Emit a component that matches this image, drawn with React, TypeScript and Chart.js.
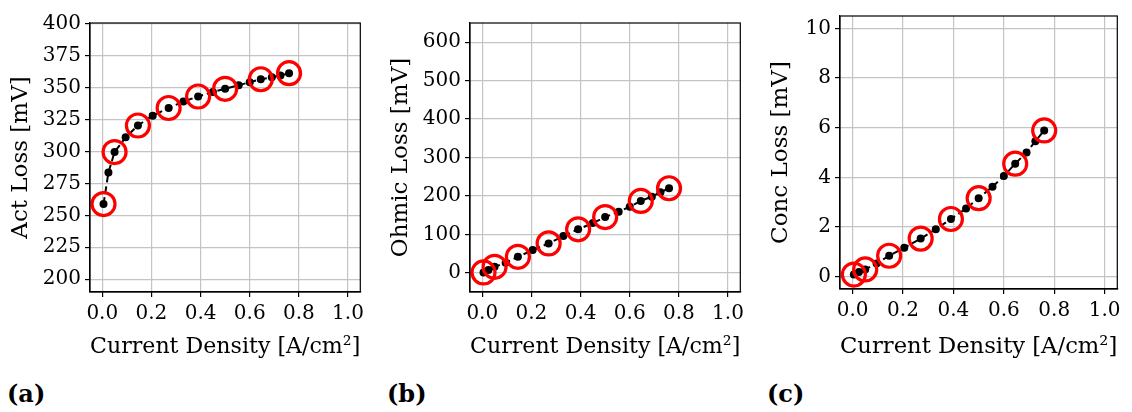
import React, { useEffect, useRef } from "react";
import { Chart, registerables } from "chart.js";
Chart.register(...registerables);

const currentDensity = [0.005, 0.025, 0.05, 0.095, 0.145, 0.205, 0.27, 0.33, 0.39, 0.45, 0.5, 0.555, 0.6, 0.645, 0.69, 0.725, 0.76];
const actLoss = [258.8, 283.5, 299.5, 311, 320.3, 328, 334, 339, 343, 346.5, 349, 351.7, 354.2, 356.5, 358, 359.5, 361.2];
const ohmicLoss = [1, 7, 15.5, 26, 41.5, 59, 76.5, 95.5, 113, 129.5, 145, 159, 172, 187, 198, 209.5, 220];
const concLoss = [0.08, 0.18, 0.29, 0.53, 0.84, 1.16, 1.53, 1.91, 2.32, 2.74, 3.16, 3.62, 4.05, 4.55, 5.0, 5.45, 5.89];
const highlightIdx = [0, 2, 4, 6, 8, 10, 13, 16];
const xTicks = [0, 0.2, 0.4, 0.6, 0.8, 1.0];
const actTicks = [200, 225, 250, 275, 300, 325, 350, 375, 400];
const ohmicTicks = [0, 100, 200, 300, 400, 500, 600];
const concTicks = [0, 2, 4, 6, 8, 10];
const xLabel = "Current Density [A/cm²]";

const FONT = "'DejaVu Serif', 'Liberation Serif', serif";
const TICK_SIZE = 20;
const TITLE_SIZE = 23;

type PanelProps = {
  left: number;
  width: number;
  top: number;
  plotBottom: number;
  yAxisWidth: number;
  rightPad: number;
  yMin: number;
  yMax: number;
  yTicks: number[];
  yLabel: string;
  values: number[];
  tag: string;
};

const boxPlugin = {
  id: "box",
  afterDraw(chart: any) {
    const { ctx, chartArea } = chart;
    ctx.save();
    ctx.strokeStyle = "#000";
    ctx.lineWidth = 1.2;
    ctx.strokeRect(chartArea.left, chartArea.top, chartArea.right - chartArea.left, chartArea.bottom - chartArea.top);
    ctx.restore();
  },
};

const CANVAS_H = 370;

function Panel(p: PanelProps) {
  const ref = useRef<HTMLCanvasElement>(null);
  useEffect(() => {
    if (!ref.current) return;
    const pts = currentDensity.map((x, i) => ({ x, y: p.values[i] }));
    const hl = highlightIdx.map((i) => ({ x: currentDensity[i], y: p.values[i] }));
    const chart = new Chart(ref.current, {
      type: "scatter",
      data: {
        datasets: [
          {
            data: pts,
            showLine: true,
            borderColor: "#000",
            borderWidth: 2,
            borderDash: [7, 4],
            backgroundColor: "#000",
            pointBackgroundColor: "#000",
            pointBorderWidth: 0,
            pointRadius: 4,
            clip: false,
            order: 2,
          } as any,
          {
            data: hl,
            showLine: false,
            borderColor: "#ff0000",
            backgroundColor: "rgba(0,0,0,0)",
            pointBorderColor: "#ff0000",
            pointBackgroundColor: "rgba(0,0,0,0)",
            pointBorderWidth: 3.2,
            pointRadius: 11.5,
            clip: false,
            order: 1,
          } as any,
        ],
      },
      options: {
        animation: false,
        responsive: false,
        maintainAspectRatio: false,
        events: [],
        layout: { padding: { top: p.top, left: 0, right: p.rightPad, bottom: 0 } },
        plugins: { legend: { display: false }, tooltip: { enabled: false } },
        scales: {
          x: {
            type: "linear",
            min: -0.05,
            max: 1.05,
            afterBuildTicks: (s: any) => {
              s.ticks = xTicks.map((v) => ({ value: v }));
            },
            afterFit: (s: any) => {
              s.height = CANVAS_H - p.plotBottom;
            },
            ticks: {
              color: "#000",
              font: { family: FONT, size: TICK_SIZE },
              padding: 5,
              maxRotation: 0,
              callback: (v: any) => Number(v).toFixed(1),
            },
            grid: { color: "#c4c4c4", lineWidth: 1.2, tickColor: "#000", tickLength: 5, tickWidth: 1.2 },
            border: { color: "#000", width: 1.2 },
            title: { display: true, text: xLabel, color: "#000", font: { family: FONT, size: TITLE_SIZE }, padding: { top: 0, bottom: 9 } },
          },
          y: {
            type: "linear",
            min: p.yMin,
            max: p.yMax,
            afterBuildTicks: (s: any) => {
              s.ticks = p.yTicks.map((v) => ({ value: v }));
            },
            afterFit: (s: any) => {
              s.width = p.yAxisWidth;
            },
            ticks: {
              color: "#000",
              font: { family: FONT, size: TICK_SIZE },
              padding: 4,
              callback: (v: any) => String(v),
            },
            grid: { color: "#c4c4c4", lineWidth: 1.2, tickColor: "#000", tickLength: 5, tickWidth: 1.2 },
            border: { color: "#000", width: 1.2 },
            title: { display: true, text: p.yLabel, color: "#000", font: { family: FONT, size: TITLE_SIZE }, padding: { top: 7, bottom: 0 } },
          },
        },
      },
      plugins: [boxPlugin],
    } as any);
    return () => chart.destroy();
  }, []);
  return (
    <>
      <canvas
        ref={ref}
        width={p.width}
        height={CANVAS_H}
        style={{ position: "absolute", left: p.left, top: 0, width: p.width, height: CANVAS_H }}
      />
      <div
        style={{
          position: "absolute",
          left: p.left + 7,
          top: 377,
          fontFamily: FONT,
          fontWeight: "bold",
          fontSize: 24,
          lineHeight: "34px",
          color: "#000",
        }}
      >
        {p.tag}
      </div>
    </>
  );
}

export default function App() {
  return (
    <div style={{ position: "fixed", left: 0, top: 0, width: 1132, height: 412, background: "#fff" }}>
      <Panel left={0} width={375} top={23} plotBottom={292} yAxisWidth={90} rightPad={8} yMin={190} yMax={400.5} yTicks={actTicks} yLabel="Act Loss [mV]" values={actLoss} tag="(a)" />
      <Panel left={380} width={375} top={23} plotBottom={292} yAxisWidth={90} rightPad={8} yMin={-50} yMax={650} yTicks={ohmicTicks} yLabel="Ohmic Loss [mV]" values={ohmicLoss} tag="(b)" />
      <Panel left={760} width={372} top={11} plotBottom={289} yAxisWidth={80} rightPad={5} yMin={-0.5} yMax={10.5} yTicks={concTicks} yLabel="Conc Loss [mV]" values={concLoss} tag="(c)" />
    </div>
  );
}
